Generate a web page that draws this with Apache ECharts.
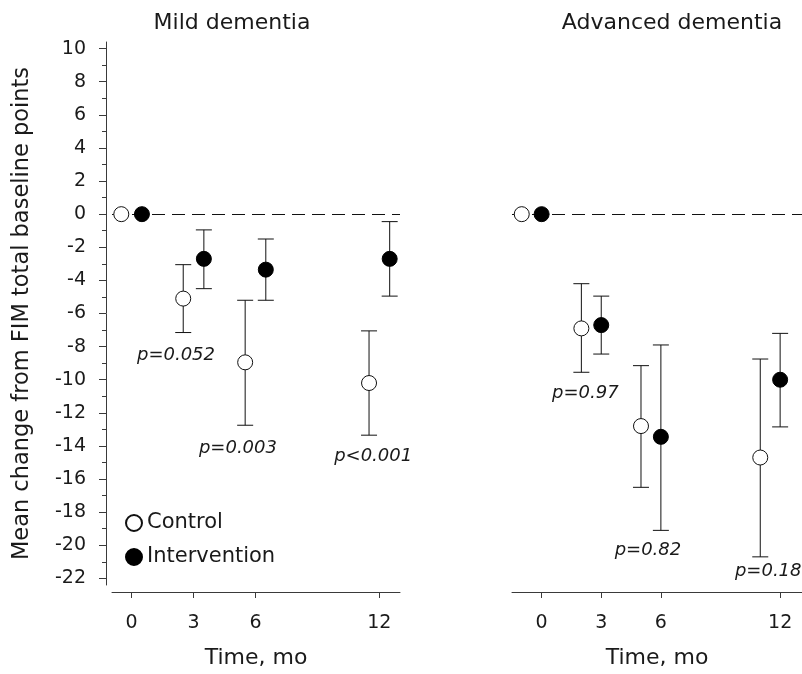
<!DOCTYPE html>
<html lang="en">
<head>
    <meta charset="utf-8">
    <title>FIM change: mild vs advanced dementia</title>
    <script src="https://cdn.jsdelivr.net/npm/echarts@6/dist/echarts.min.js"></script>
    <style>
        html, body { margin: 0; padding: 0; background: #fff; }
        #main { width: 802px; height: 674px; }
    </style>
</head>
<body>
<div id="main"></div>
<script>
    // tick labels
    var monthTicks = [0, 3, 6, 12];
    var yTicks = [10, 8, 6, 4, 2, 0, -2, -4, -6, -8, -10, -12, -14, -16, -18, -20, -22];
    var yMinorTicks = [9, 7, 5, 3, 1, -1, -3, -5, -7, -9, -11, -13, -15, -17, -19, -21];

    // mild dementia (x positions are offset around 0/3/6/12 months)
    var mildCtrlX    = [-0.5, 2.5, 5.5, 11.5];
    var mildCtrlMean = [0, -5.1, -8.95, -10.2];
    var mildCtrlLow  = [null, -7.15, -12.75, -13.35];
    var mildCtrlHigh = [null, -3.05, -5.2, -7.05];
    var mildIntX     = [0.5, 3.5, 6.5, 12.5];
    var mildIntMean  = [0, -2.7, -3.35, -2.7];
    var mildIntLow   = [null, -4.5, -5.2, -4.95];
    var mildIntHigh  = [null, -0.95, -1.5, -0.45];
    var mildP  = ['p=0.052', 'p=0.003', 'p<0.001'];
    var mildPX = [2.15, 5.15, 11.7];
    var mildPY = [-8.5, -14.15, -14.65];

    // advanced dementia
    var advCtrlX    = [-1, 2, 5, 11];
    var advCtrlMean = [0, -6.9, -12.8, -14.7];
    var advCtrlLow  = [null, -9.55, -16.5, -20.7];
    var advCtrlHigh = [null, -4.2, -9.15, -8.75];
    var advIntX     = [0, 3, 6, 12];
    var advIntMean  = [0, -6.7, -13.45, -10.0];
    var advIntLow   = [null, -8.45, -19.1, -12.85];
    var advIntHigh  = [null, -4.95, -7.9, -7.2];
    var advP  = ['p=0.97', 'p=0.82', 'p=0.18'];
    var advPX = [2.2, 5.35, 11.4];
    var advPY = [-10.85, -20.3, -21.6];

    var baseline = 0;

    var FONT = '"DejaVu Sans", sans-serif';
    var TXT = '#1a1a1a';
    var AXC = '#3a3a3a';

    function pts(xs, ys) {
        return xs.map(function (x, i) { return [x, ys[i]]; });
    }
    function bars(xs, lo, hi) {
        var out = [];
        xs.forEach(function (x, i) {
            if (lo[i] !== null) out.push([x, lo[i], hi[i]]);
        });
        return out;
    }
    function labels(xs, ys, txt) {
        return xs.map(function (x, i) { return { value: [x, ys[i]], name: txt[i] }; });
    }

    function errorBar(params, api) {
        var x = api.value(0);
        var lo = api.coord([x, api.value(1)]);
        var hi = api.coord([x, api.value(2)]);
        var w = 8;
        var st = { stroke: '#111', lineWidth: 1 };
        return {
            type: 'group',
            children: [
                { type: 'line', shape: { x1: lo[0], y1: lo[1], x2: hi[0], y2: hi[1] }, style: st },
                { type: 'line', shape: { x1: lo[0] - w, y1: lo[1], x2: lo[0] + w, y2: lo[1] }, style: st },
                { type: 'line', shape: { x1: hi[0] - w, y1: hi[1], x2: hi[0] + w, y2: hi[1] }, style: st }
            ]
        };
    }

    var ctrlStyle = { color: '#fff', borderColor: '#111', borderWidth: 1, opacity: 1 };
    var intStyle = { color: '#000', borderColor: '#000', borderWidth: 1, opacity: 1 };

    function xAxis(gi, min, max) {
        return {
            gridIndex: gi, type: 'value', min: min, max: max, offset: 7,
            name: 'Time, mo', nameLocation: 'middle', nameGap: 55,
            nameTextStyle: { fontFamily: FONT, fontSize: 22, color: TXT },
            axisLine: { show: true, onZero: false, lineStyle: { color: AXC, width: 1 } },
            axisTick: { show: true, inside: false, length: 6, customValues: monthTicks, lineStyle: { color: AXC } },
            axisLabel: { customValues: monthTicks, margin: 22, fontFamily: FONT, fontSize: 19, color: TXT },
            splitLine: { show: false }
        };
    }

    function panel(gi, xsC, mC, loC, hiC, xsI, mI, loI, hiI, px, py, pt, lineZ) {
        var xa = gi, ya = gi === 0 ? 0 : 2;
        return [
            {
                type: 'line', xAxisIndex: xa, yAxisIndex: ya, data: [], z: lineZ, silent: true,
                markLine: {
                    symbol: 'none', silent: true, label: { show: false },
                    lineStyle: { type: [13, 7], color: '#111', width: 1, opacity: 1 },
                    data: [{ yAxis: baseline }]
                }
            },
            { type: 'custom', xAxisIndex: xa, yAxisIndex: ya, renderItem: errorBar, data: bars(xsC, loC, hiC), z: 3 },
            { type: 'custom', xAxisIndex: xa, yAxisIndex: ya, renderItem: errorBar, data: bars(xsI, loI, hiI), z: 3 },
            { name: 'Control', type: 'scatter', xAxisIndex: xa, yAxisIndex: ya, symbol: 'circle', symbolSize: 15,
              itemStyle: ctrlStyle, data: pts(xsC, mC), z: 5 },
            { name: 'Intervention', type: 'scatter', xAxisIndex: xa, yAxisIndex: ya, symbol: 'circle', symbolSize: 15,
              itemStyle: intStyle, data: pts(xsI, mI), z: 5 },
            { type: 'scatter', xAxisIndex: xa, yAxisIndex: ya, symbolSize: 0, silent: true,
              itemStyle: { opacity: 1 },
              label: { show: true, position: 'inside', formatter: '{b}', fontFamily: FONT, fontSize: 18,
                       fontStyle: 'italic', color: TXT },
              data: labels(px, py, pt), z: 6 }
        ];
    }

    var chart = echarts.init(document.getElementById('main'));
    chart.setOption({
        animation: false,
        backgroundColor: '#fff',
        title: [
            { text: 'Mild dementia', left: 227, top: 7, textAlign: 'center',
              textStyle: { fontFamily: FONT, fontSize: 22, fontWeight: 'normal', color: TXT } },
            { text: 'Advanced dementia', left: 667, top: 7, textAlign: 'center',
              textStyle: { fontFamily: FONT, fontSize: 22, fontWeight: 'normal', color: TXT } }
        ],
        legend: {
            orient: 'vertical', left: 120, top: 507, itemWidth: 16, itemHeight: 16, itemGap: 12,
            icon: 'circle', data: ['Control', 'Intervention'],
            textStyle: { fontFamily: FONT, fontSize: 21, color: TXT, lineHeight: 22 }
        },
        grid: [
            { left: 112, top: 42, width: 288, height: 543 },
            { left: 512, top: 42, width: 290, height: 543 }
        ],
        xAxis: [xAxis(0, -0.95, 13.0), xAxis(1, -1.49, 13.1)],
        yAxis: [
            {
                gridIndex: 0, type: 'value', min: -22.4, max: 10.4, offset: 6, position: 'left',
                name: 'Mean change from FIM total baseline points', nameLocation: 'middle', nameGap: 72,
                nameTextStyle: { fontFamily: FONT, fontSize: 22.5, color: TXT },
                axisLine: { show: true, onZero: false, lineStyle: { color: AXC, width: 1 } },
                axisTick: { show: true, length: 7, customValues: yTicks, lineStyle: { color: AXC } },
                axisLabel: { customValues: yTicks, margin: 20, fontFamily: FONT, fontSize: 19, color: TXT },
                splitLine: { show: false }
            },
            {
                gridIndex: 0, type: 'value', min: -22.4, max: 10.4, offset: 6, position: 'left',
                axisLine: { show: false, onZero: false },
                axisTick: { show: true, length: 4, customValues: yMinorTicks, lineStyle: { color: AXC } },
                axisLabel: { show: false },
                splitLine: { show: false }
            },
            {
                gridIndex: 1, type: 'value', min: -22.4, max: 10.4, show: false
            }
        ],
        series: []
            .concat(panel(0, mildCtrlX, mildCtrlMean, mildCtrlLow, mildCtrlHigh,
                          mildIntX, mildIntMean, mildIntLow, mildIntHigh, mildPX, mildPY, mildP, 1))
            .concat(panel(1, advCtrlX, advCtrlMean, advCtrlLow, advCtrlHigh,
                          advIntX, advIntMean, advIntLow, advIntHigh, advPX, advPY, advP, 7))
    });
</script>
</body>
</html>
